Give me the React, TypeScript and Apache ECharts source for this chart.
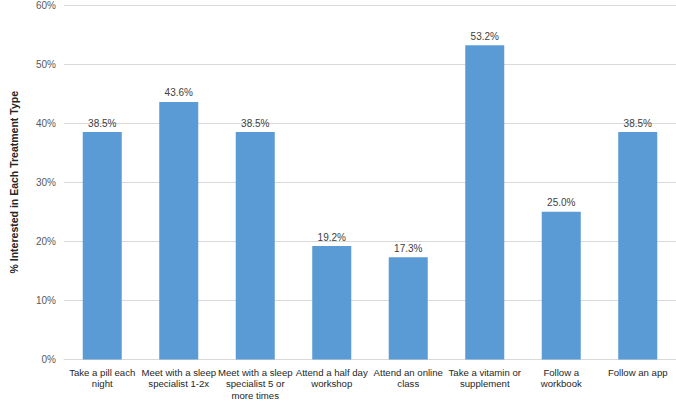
import React, { useEffect, useRef } from "react";
import * as echarts from "echarts";

const categories = [
  "Take a pill each\nnight",
  "Meet with a sleep\nspecialist 1-2x",
  "Meet with a sleep\nspecialist 5 or\nmore times",
  "Attend a half day\nworkshop",
  "Attend an online\nclass",
  "Take a vitamin or\nsupplement",
  "Follow a\nworkbook",
  "Follow an app",
];
const values = [38.5, 43.6, 38.5, 19.2, 17.3, 53.2, 25.0, 38.5];
const yTicks = { min: 0, max: 60, interval: 10 };
const yTitle = "% Interested in Each Treatment Type";

export default function App() {
  const ref = useRef<HTMLDivElement>(null);
  useEffect(() => {
    if (!ref.current) return;
    const chart = echarts.init(ref.current, undefined, { renderer: "svg" });
    chart.setOption({
      animation: false,
      textStyle: { fontFamily: "Liberation Sans, Arial, sans-serif" },
      grid: { left: 52, right: 0, top: 4, bottom: 37, containLabel: false },
      xAxis: {
        type: "category",
        data: categories,
        axisTick: { show: false },
        axisLine: { lineStyle: { color: "#d9d9d9" } },
        axisLabel: {
          color: "#262626",
          fontSize: 9.6,
          lineHeight: 11.5,
          margin: 7,
          interval: 0,
          fontFamily: "Liberation Sans, Arial, sans-serif",
        },
      },
      yAxis: {
        type: "value",
        min: yTicks.min,
        max: yTicks.max,
        interval: yTicks.interval,
        name: yTitle,
        nameLocation: "middle",
        nameGap: 45,
        nameTextStyle: {
          color: "#262626",
          fontSize: 10.5,
          fontWeight: "bold",
          fontFamily: "Liberation Sans, Arial, sans-serif",
        },
        axisLine: { show: false },
        axisTick: { show: false },
        splitLine: { lineStyle: { color: "#d9d9d9" } },
        axisLabel: {
          formatter: (v: number) => v + "%",
          color: "#595959",
          fontSize: 10,
          margin: 8,
          fontFamily: "Liberation Sans, Arial, sans-serif",
        },
      },
      series: [
        {
          type: "bar",
          data: values,
          barCategoryGap: "49%",
          itemStyle: { color: "#5b9bd5" },
          label: {
            show: true,
            position: "top",
            distance: 4,
            formatter: (p: any) => p.value.toFixed(1) + "%",
            color: "#404040",
            fontSize: 10,
            fontFamily: "Liberation Sans, Arial, sans-serif",
          },
        },
      ],
    });
    return () => chart.dispose();
  }, []);
  return <div ref={ref} style={{ width: 676, height: 401, position: "absolute", left: 0, top: 0 }} />;
}
